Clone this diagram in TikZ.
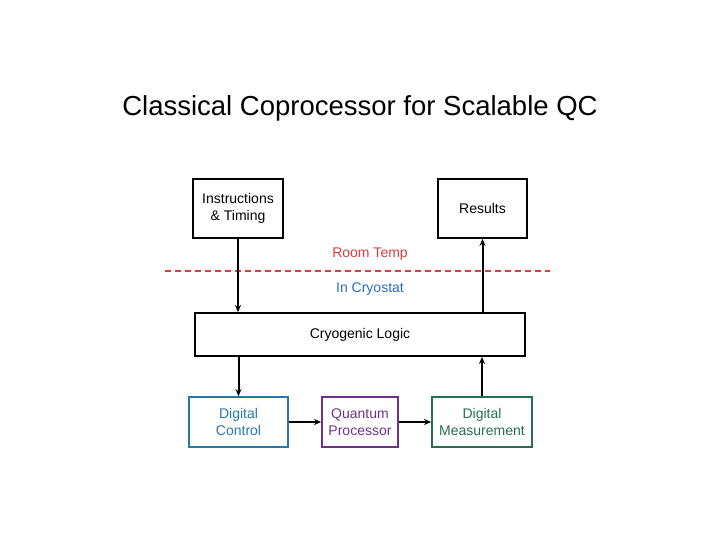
\documentclass[tikz,border=0pt]{standalone}
\usepackage{fontspec}
\setmainfont{Liberation Sans}
\usetikzlibrary{arrows.meta}
\definecolor{ctlblue}{RGB}{40,120,170}
\definecolor{qpurple}{RGB}{110,50,140}
\definecolor{measgreen}{RGB}{40,110,80}
\definecolor{tempred}{RGB}{220,60,60}
\definecolor{cryoblue}{RGB}{40,110,190}
\begin{document}
\begin{tikzpicture}[x=1pt,y=-1pt,
  box/.style={draw, line width=1.8pt, align=center, inner sep=0pt,
    font=\fontsize{14}{17}\selectfont},
  flow/.style={-{Stealth[length=7pt,width=6pt]}, line width=2pt}]
  \useasboundingbox (0,0) rectangle (720,540);
  \node[font=\fontsize{27.5}{32}\selectfont] (title) at (360,108) {Classical Coprocessor for Scalable QC};

  \node[box, minimum width=90pt, minimum height=59pt] (instr) at (238,208.5) {Instructions\\\& Timing};
  \node[box, minimum width=89pt, minimum height=59pt] (res) at (482.5,208.5) {Results};
  \node[box, minimum width=330pt, minimum height=43pt] (cryo) at (360,334.5) {Cryogenic Logic};
  \node[box, draw=ctlblue, text=ctlblue, minimum width=99pt, minimum height=50pt] (ctl) at (238.5,422) {Digital\\Control};
  \node[box, draw=qpurple, text=qpurple, minimum width=76pt, minimum height=50pt] (qp) at (360,422) {Quantum\\Processor};
  \node[box, draw=measgreen, text=measgreen, minimum width=100pt, minimum height=50pt] (meas) at (482,422) {Digital\\Measurement};

  \node[text=tempred, font=\fontsize{14}{17}\selectfont] (room) at (370,254) {Room Temp};
  \node[text=cryoblue, font=\fontsize{14}{17}\selectfont] (incryo) at (370,289) {In Cryostat};
  \coordinate (dl) at (165,271);
  \coordinate (dr) at (550,271);
  \draw[tempred, dash pattern=on 6pt off 4pt, line width=1.5pt] (dl) -- (dr);

  \draw[flow] (instr.south) -- (instr.south |- cryo.north);
  \draw[flow] (cryo.south -| ctl.north) -- (ctl.north);
  \draw[flow] (ctl) -- (qp);
  \draw[flow] (qp) -- (meas);
  \draw[flow] (meas.north) -- (meas.north |- cryo.south);
  \draw[flow] (cryo.north -| res.south) -- (res.south);
\end{tikzpicture}
\end{document}
